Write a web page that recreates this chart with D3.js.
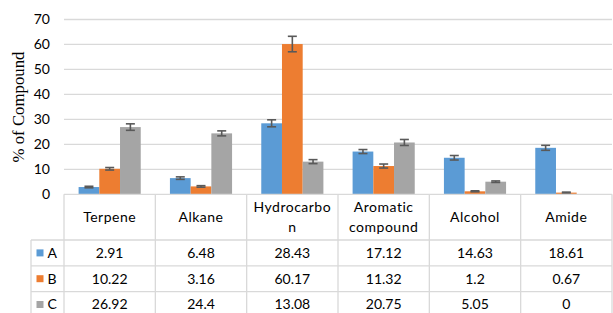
<!DOCTYPE html>
<html>
<head>
<meta charset="utf-8">
<script src="https://cdn.jsdelivr.net/npm/d3@7"></script>
<style>
  body { margin: 0; background: #fff; }
  svg { display: block; }
</style>
</head>
<body>
<div id="chart"></div>
<script>
// Data
var categories = ['Terpene', 'Alkane', 'Hydrocarbon', 'Aromatic compound', 'Alcohol', 'Amide'];
var headerLines = [['Terpene'], ['Alkane'], ['Hydrocarbo', 'n'], ['Aromatic', 'compound'], ['Alcohol'], ['Amide']];
var seriesNames = ['A', 'B', 'C'];
var valuesA = [2.91, 6.48, 28.43, 17.12, 14.63, 18.61];
var valuesB = [10.22, 3.16, 60.17, 11.32, 1.2, 0.67];
var valuesC = [26.92, 24.4, 13.08, 20.75, 5.05, 0];
var errorsA = [0.3, 0.5, 1.4, 0.8, 0.9, 1.0];
var errorsB = [0.5, 0.3, 3.1, 0.8, 0.2, 0.2];
var errorsC = [1.3, 1.0, 0.8, 1.2, 0.3, 0];
var yTicks = [0, 10, 20, 30, 40, 50, 60, 70];

var seriesColors = ['#5b9bd5', '#ed7d31', '#a5a5a5'];
var gridColor = '#d9d9d9';
var errColor = '#595959';
var fontSans = 'Lato, "Open Sans", sans-serif';

var W = 613, H = 313;
var plotLeft = 64, plotRight = 612, plotTop = 19.5, plotBottom = 194.3;
var headerBottom = 240, rowH = 25.8, legendLeft = 31;

var svg = d3.select('#chart').append('svg').attr('width', W).attr('height', H);

var x0 = d3.scaleBand().domain(categories).range([plotLeft, plotRight]).paddingInner(0).paddingOuter(0);
var x1 = d3.scaleBand().domain(seriesNames).range([0, x0.bandwidth()]).paddingInner(0).paddingOuter(0.705);
var y = d3.scaleLinear().domain([0, 70]).range([plotBottom, plotTop]);

// Gridlines
svg.append('g').selectAll('line').data(yTicks.filter(function(d) { return d > 0; })).enter()
  .append('line')
  .attr('x1', plotLeft).attr('x2', plotRight)
  .attr('y1', function(d) { return y(d); }).attr('y2', function(d) { return y(d); })
  .attr('stroke', gridColor).attr('stroke-width', 1.3);

// Y tick labels
svg.append('g').selectAll('text').data(yTicks).enter()
  .append('text')
  .attr('x', 50).attr('y', function(d) { return y(d); })
  .attr('dy', '0.35em').attr('text-anchor', 'end')
  .attr('font-family', fontSans).attr('font-size', 14).attr('fill', '#000')
  .text(function(d) { return d; });

// Y title
svg.append('text')
  .attr('transform', 'translate(24,107) rotate(-90)')
  .attr('text-anchor', 'middle')
  .attr('font-family', '"Liberation Serif", "DejaVu Serif", serif')
  .attr('font-size', 16.8).attr('fill', '#000')
  .text('% of Compound');

// Bars
var allValues = [valuesA, valuesB, valuesC];
var allErrors = [errorsA, errorsB, errorsC];
var bars = [];
categories.forEach(function(c, i) {
  seriesNames.forEach(function(s, j) {
    bars.push({cat: c, s: s, j: j, v: allValues[j][i], e: allErrors[j][i]});
  });
});

svg.append('g').selectAll('rect').data(bars).enter()
  .append('rect')
  .attr('x', function(d) { return x0(d.cat) + x1(d.s); })
  .attr('width', x1.bandwidth())
  .attr('y', function(d) { return y(d.v); })
  .attr('height', function(d) { return plotBottom - y(d.v); })
  .attr('fill', function(d) { return seriesColors[d.j]; });

// Error bars
var eg = svg.append('g').attr('stroke', errColor).attr('stroke-width', 1.6);
bars.filter(function(d) { return d.v > 0; }).forEach(function(d) {
  var cx = x0(d.cat) + x1(d.s) + x1.bandwidth() / 2;
  var top = y(d.v + d.e), bot = y(d.v - d.e);
  eg.append('line').attr('x1', cx).attr('x2', cx).attr('y1', top).attr('y2', bot);
  eg.append('line').attr('x1', cx - 4.5).attr('x2', cx + 4.5).attr('y1', top).attr('y2', top);
  eg.append('line').attr('x1', cx - 4.5).attr('x2', cx + 4.5).attr('y1', bot).attr('y2', bot);
});

// Data table
var tg = svg.append('g').attr('stroke', gridColor).attr('stroke-width', 1.3);
// axis line / table top
tg.append('line').attr('x1', plotLeft).attr('x2', plotRight).attr('y1', plotBottom).attr('y2', plotBottom);
// row lines
[0, 1, 2, 3].forEach(function(r) {
  var yy = headerBottom + r * rowH;
  tg.append('line').attr('x1', legendLeft).attr('x2', plotRight).attr('y1', yy).attr('y2', yy);
});
// vertical lines
categories.forEach(function(c) {
  tg.append('line').attr('x1', x0(c)).attr('x2', x0(c)).attr('y1', plotBottom).attr('y2', H);
});
tg.append('line').attr('x1', plotRight).attr('x2', plotRight).attr('y1', plotBottom).attr('y2', H);
tg.append('line').attr('x1', legendLeft).attr('x2', legendLeft).attr('y1', headerBottom).attr('y2', H);

// Header labels
categories.forEach(function(c, i) {
  var lines = headerLines[i];
  var cy = (plotBottom + headerBottom) / 2;
  var lh = 19.5;
  lines.forEach(function(l, k) {
    svg.append('text')
      .attr('x', x0(c) + x0.bandwidth() / 2)
      .attr('y', cy + (k - (lines.length - 1) / 2) * lh)
      .attr('dy', '0.35em').attr('text-anchor', 'middle')
      .attr('font-family', fontSans).attr('font-size', 14).attr('letter-spacing', 0.5).attr('fill', '#000')
      .text(l);
  });
});

// Rows
seriesNames.forEach(function(s, j) {
  var cy = headerBottom + j * rowH + rowH / 2;
  svg.append('rect')
    .attr('x', 36.5).attr('y', cy - 3.5).attr('width', 7).attr('height', 7)
    .attr('fill', seriesColors[j]);
  svg.append('text')
    .attr('x', 47.5).attr('y', cy).attr('dy', '0.35em')
    .attr('font-family', fontSans).attr('font-size', 14).attr('fill', '#000')
    .text(s);
  categories.forEach(function(c, i) {
    svg.append('text')
      .attr('x', x0(c) + x0.bandwidth() / 2).attr('y', cy).attr('dy', '0.35em')
      .attr('text-anchor', 'middle')
      .attr('font-family', fontSans).attr('font-size', 14).attr('fill', '#000')
      .text(allValues[j][i]);
  });
});
</script>
</body>
</html>
